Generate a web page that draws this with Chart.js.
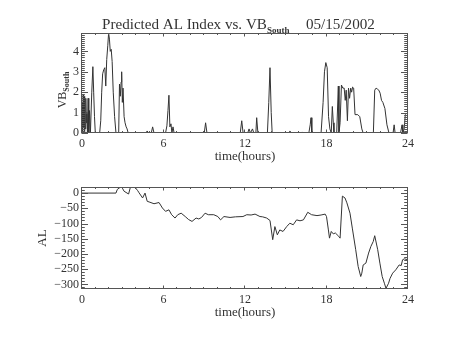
<!DOCTYPE html>
<html><head><meta charset="utf-8">
<script src="https://cdn.jsdelivr.net/npm/chart.js@4.4.1/dist/chart.umd.min.js"></script>
<style>
html,body{margin:0;padding:0;background:#fff;width:453px;height:340px;overflow:hidden}
canvas{position:absolute;left:0}
#c1{top:0}#c2{top:170px}
</style></head><body>
<canvas id="c1" width="453" height="170"></canvas>
<canvas id="c2" width="453" height="170"></canvas>
<script>
// ---- data ----
const hourTicks = [0, 6, 12, 18, 24];
const vbTicks = [0, 1, 2, 3, 4];
const alTicks = [0, -50, -100, -150, -200, -250, -300];

const vbTime = [0,0.03,0.06,0.09,0.12,0.15,0.18,0.21,0.24,0.28,0.32,0.36,0.4,0.45,0.5,0.55,0.62,0.66,0.72,0.8,0.86,0.92,0.98,
  1.3,1.38,1.45,1.52,1.6,1.68,1.75,1.82,1.9,1.96,2.02,2.08,2.15,2.22,2.3,2.4,2.5,
  2.7,2.76,2.82,2.88,2.92,2.97,3.02,3.1,3.17,3.25,3.32,3.4,
  4.7,4.8,4.9,5.1,5.2,5.3,6.15,6.25,6.33,6.4,6.47,6.55,6.62,6.7,6.78,
  9.0,9.1,9.2,11.65,11.76,11.86,12.2,12.3,12.4,12.55,12.65,12.8,12.86,12.95,
  13.65,13.75,13.84,13.93,14.0,15.25,15.3,15.4,16.15,16.2,16.25,16.7,16.8,16.86,16.92,
  17.6,17.75,17.85,17.95,18.05,18.15,18.25,18.35,18.43,18.5,18.55,18.75,18.87,18.92,
  19.0,19.1,19.2,19.3,19.38,19.45,19.54,19.62,19.7,19.78,19.85,19.92,20.0,20.1,20.3,20.45,20.6,20.7,
  21.45,21.55,21.65,21.75,21.85,21.95,22.05,22.15,22.3,22.45,22.6,22.9,22.98,23.05,
  23.45,23.56,23.62,23.72,23.8,23.9,24.0];
const vbSouth = [0,1.5,0,1.9,0.3,1.8,0,1.2,0.2,1.7,0.5,1.0,0,1.7,0,1.1,0,0,2.0,3.25,2.0,0.8,0,
  0,0.6,2.0,2.9,3.1,3.2,2.3,3.6,4.3,4.9,4.6,4.0,4.1,3.5,2.0,0.8,0,
  0,2.4,1.8,2.5,3.0,1.5,2.2,0.8,0.5,0.3,0.2,0,
  0,0.1,0,0,0.3,0,0,0.35,1.1,1.85,0.3,0.45,0,0.3,0,
  0,0.5,0,0,0.6,0,0,0.2,0,0.2,0,0,0.75,0,
  0,1.5,3.2,1.0,0,0,0.1,0,0,0.05,0,0,0.4,0.75,0,
  0,1.5,3.0,3.45,3.2,0.8,0.2,0,1.3,0.5,0,0,2.3,0,
  0.5,2.35,2.2,2.2,1.6,2.1,0.6,2.2,1.7,2.2,2.0,2.25,2.2,0.9,0.9,0.8,0.2,0,
  0,2.1,2.2,2.15,2.1,1.95,1.6,1.5,1.2,0.4,0,0,0.4,0,
  0,0.4,0,0.2,0.9,0.85,0.8];

const alTime = [0,2.5,2.6,2.9,3.1,3.43,3.58,3.85,4.1,4.2,4.46,4.64,4.8,5.0,5.3,5.67,5.92,6.15,6.4,6.6,6.85,7.05,7.3,7.6,7.85,8.1,8.4,8.6,8.8,
  9.06,9.3,9.7,10.0,10.2,10.45,10.9,11.3,11.85,12.13,12.45,12.74,13.1,13.3,13.6,13.84,14.04,14.2,14.38,14.56,14.8,15.07,15.3,15.55,15.8,16.05,16.3,
  16.62,16.9,17.3,17.6,17.9,18.0,18.14,18.22,18.35,18.5,18.65,18.9,19.0,19.17,19.36,19.5,19.73,19.9,20.15,20.33,20.52,20.6,20.7,20.9,
  21.1,21.27,21.44,21.55,21.77,21.93,22.1,22.26,22.38,22.57,22.68,22.87,23.1,23.35,23.5,23.6,23.73,24];
const alIndex = [0,0,12,22,6,-3,22,22,8,1,-16,0,-27,-30,-35,-31,-49,-60,-55,-71,-82,-71,-66,-77,-87,-93,-82,-85,-80,
  -66,-71,-71,-77,-88,-77,-80,-78,-77,-71,-72,-69,-77,-78,-82,-90,-153,-110,-137,-121,-126,-110,-99,-104,-88,-91,-88,
  -63,-71,-74,-72,-69,-77,-121,-148,-126,-134,-131,-142,-148,-10,-16,-32,-66,-115,-186,-241,-274,-263,-236,-230,
  -197,-175,-159,-140,-186,-230,-274,-296,-313,-296,-280,-263,-252,-236,-238,-219,-216,-219];

// ---- helpers ----
const SERIF = '"Liberation Serif", "DejaVu Serif", serif';
const INK = '#333';

function frame(opts) {
  return {
    id: 'frame',
    afterDraw(chart) {
      const {ctx, chartArea: a, scales: {x, y}} = chart;
      ctx.save();
      ctx.strokeStyle = '#555';
      ctx.lineWidth = 1;
      const L = Math.round(a.left) - 0.5, R = Math.round(a.right) - 0.5;
      const T = Math.round(a.top) + 0.5, B = Math.round(a.bottom) - 0.5;
      ctx.strokeRect(L, T, R - L, B - T);
      ctx.beginPath();
      for (let h = x.min; h <= x.max + 1e-9; h += 1) {
        const px = Math.round(x.getPixelForValue(h)) - 0.5;
        const len = (h % 6 === 0) ? 3 : 1.5;
        ctx.moveTo(px, B); ctx.lineTo(px, B - len);
        ctx.moveTo(px, T); ctx.lineTo(px, T + len);
      }
      const st = opts.minor;
      const start = Math.ceil(y.min / st - 1e-9);
      const end = Math.floor(y.max / st + 1e-9);
      for (let k = start; k <= end; k++) {
        const v = k * st;
        const py = Math.round(y.getPixelForValue(v)) + 0.5;
        const major = Math.abs(v / opts.major - Math.round(v / opts.major)) < 1e-6;
        const len = major ? 6.5 : 3.3;
        ctx.moveTo(L, py); ctx.lineTo(L + len, py);
        ctx.moveTo(R, py); ctx.lineTo(R - len, py);
      }
      ctx.stroke();
      // x axis title
      ctx.fillStyle = INK;
      ctx.font = '13px ' + SERIF;
      ctx.textAlign = 'center';
      ctx.textBaseline = 'middle';
      ctx.fillText('time(hours)', (a.left + a.right) / 2, a.bottom + 24);
      opts.extra && opts.extra(ctx, a);
      ctx.restore();
    }
  };
}

function minusFmt(v) { return String(v).replace('-', '\u2212'); }

function makeChart(id, times, vals, yMin, yMax, yTicks, pad, xH, extraPlugin) {
  const pts = times.map((t, i) => ({x: t, y: vals[i]}));
  return new Chart(document.getElementById(id), {
    type: 'line',
    data: {datasets: [{data: pts, borderColor: INK, borderWidth: 1, pointRadius: 0, tension: 0, fill: false}]},
    options: {
      responsive: false, animation: false,
      layout: {padding: pad},
      plugins: {legend: {display: false}, tooltip: {enabled: false}},
      scales: {
        x: {
          type: 'linear', min: 0, max: 24, bounds: 'data',
          grid: {display: false, drawTicks: false}, border: {display: false},
          afterBuildTicks: s => { s.ticks = hourTicks.map(v => ({value: v})); },
          afterFit: s => { s.height = xH; },
          ticks: {padding: 4, color: INK, font: {family: SERIF, size: 12}, maxRotation: 0, autoSkip: false}
        },
        y: {
          type: 'linear', min: yMin, max: yMax, bounds: 'data',
          grid: {display: false, drawTicks: false}, border: {display: false},
          afterBuildTicks: s => { s.ticks = yTicks.map(v => ({value: v})); },
          afterFit: s => { s.width = 82; },
          ticks: {padding: 3, color: INK, font: {family: SERIF, size: 12}, autoSkip: false, callback: v => minusFmt(v)}
        }
      }
    },
    plugins: [extraPlugin]
  });
}

// top chart: VB_South
makeChart('c1', vbTime, vbSouth, 0, 4.9, vbTicks, {top: 33, right: 45, left: 0, bottom: 0}, 37,
  frame({minor: 0.1, major: 1, extra: (ctx, a) => {
    // title
    ctx.textAlign = 'left';
    ctx.textBaseline = 'alphabetic';
    let fs = 14;
    ctx.font = fs + 'px ' + SERIF;
    const main = 'Predicted AL Index vs. VB';
    fs = fs * 165 / ctx.measureText(main).width;
    ctx.font = fs.toFixed(2) + 'px ' + SERIF;
    let x = 102;
    ctx.fillText(main, x, 29);
    x += ctx.measureText(main).width;
    ctx.font = 'bold 9px ' + SERIF;
    ctx.fillText('South', x, 33);
    ctx.font = fs.toFixed(2) + 'px ' + SERIF;
    ctx.fillText('05/15/2002', 306, 29);
    // y label
    ctx.save();
    ctx.translate(66, 90);
    ctx.rotate(-Math.PI / 2);
    ctx.font = '12px ' + SERIF;
    ctx.textAlign = 'left';
    const w1 = ctx.measureText('VB').width;
    ctx.font = 'bold 8px ' + SERIF;
    const w2 = ctx.measureText('South').width;
    let sx = -(w1 + w2) / 2;
    ctx.font = '12px ' + SERIF;
    ctx.fillText('VB', sx, 0);
    ctx.font = 'bold 8px ' + SERIF;
    ctx.fillText('South', sx + w1, 3);
    ctx.restore();
  }}));

// bottom chart: AL
makeChart('c2', alTime, alIndex, -315, 20, alTicks, {top: 17, right: 45, left: 0, bottom: 0}, 51,
  frame({minor: 10, major: 50, extra: (ctx, a) => {
    ctx.save();
    ctx.translate(46, (a.top + a.bottom) / 2);
    ctx.rotate(-Math.PI / 2);
    ctx.font = '13px ' + SERIF;
    ctx.textAlign = 'center';
    ctx.textBaseline = 'alphabetic';
    ctx.fillText('AL', 0, 0);
    ctx.restore();
  }}));
</script>
</body></html>
